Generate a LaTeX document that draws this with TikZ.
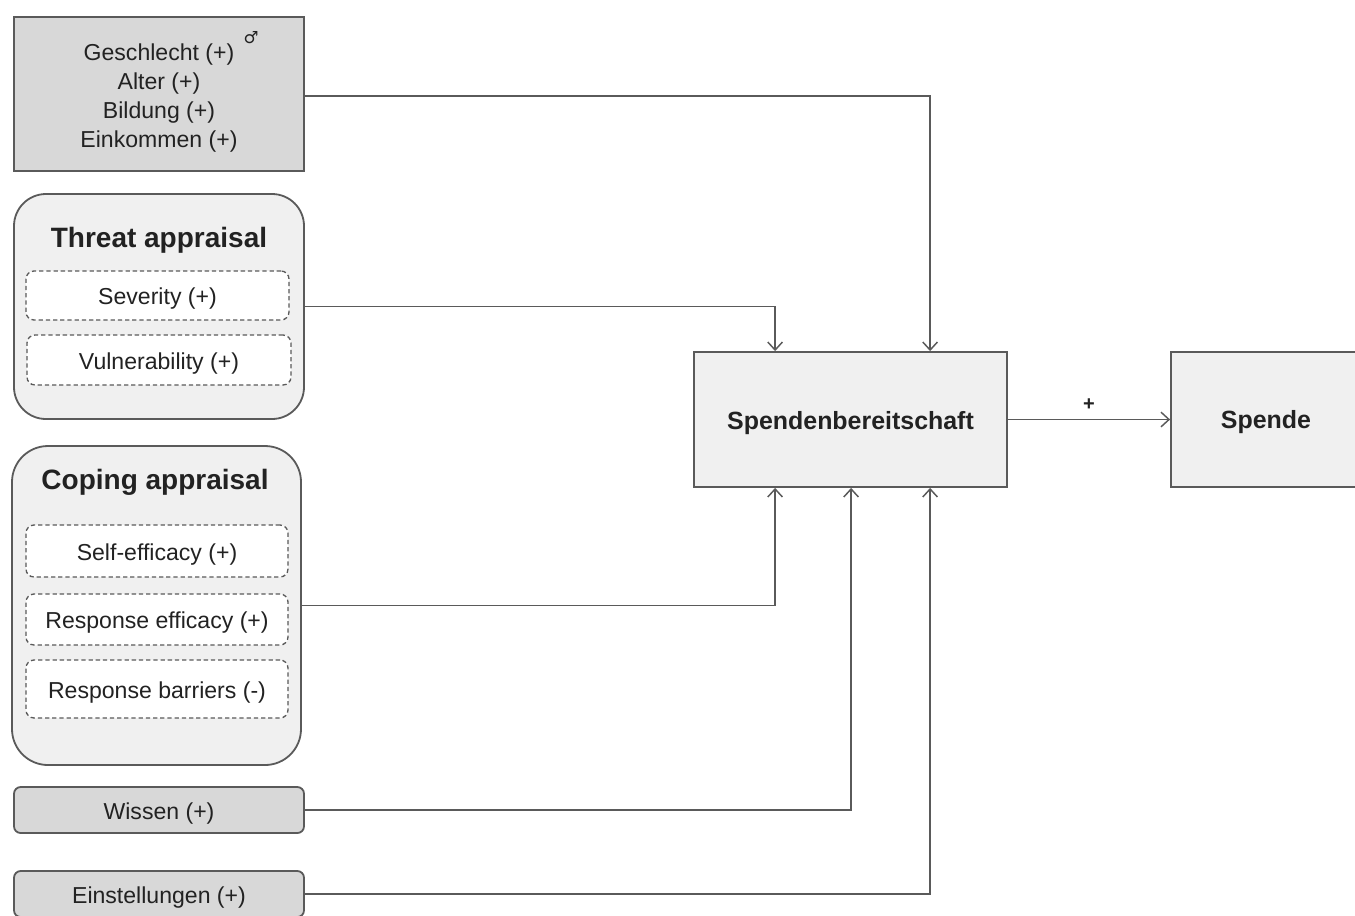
\documentclass[tikz,border=0pt]{standalone}
\usepackage{fontspec}
\setmainfont{Liberation Sans}
\newfontfamily\symfont{DejaVu Sans}
\usetikzlibrary{arrows.meta,calc}
\definecolor{lc}{HTML}{5A5A5A}
\definecolor{dkfill}{HTML}{D8D8D8}
\definecolor{ltfill}{HTML}{F0F0F0}
\definecolor{tc}{HTML}{222222}
\newcommand{\dn}[1]{\raisebox{-2.4pt}[\height][\depth]{#1}}
\begin{document}
\begin{tikzpicture}[x=0.75pt,y=-0.75pt,
  base/.style={draw=lc,line width=1.35pt,inner sep=0pt,text=tc,align=center},
  darkbox/.style={base,fill=dkfill},
  groupbox/.style={base,fill=ltfill,rounded corners=24pt},
  dashbox/.style={base,fill=white,dashed,dash pattern=on 3.2pt off 2.2pt,line width=1pt,rounded corners=6pt},
  mainbox/.style={base,fill=ltfill},
  txt/.style={font=\fontsize{17.3}{21.75}\selectfont},
  ttl/.style={font=\bfseries\fontsize{21}{24}\selectfont,text=tc,inner sep=0pt},
  conn/.style={draw=lc,line width=1.1pt,-{Straight Barb[length=6pt,width=11pt,line width=1.1pt]}}
]
\useasboundingbox (0,0) rectangle (1355,915);
\fill[white] (0,0) rectangle (1355,915);

% demographics
\node[darkbox,minimum width=290*0.75pt,minimum height=154*0.75pt] (demo) at (159,94) {};
\node[txt,text=tc,inner sep=0pt,align=center] (demot) at (159,98)
  {Geschlecht (+)\\Alter (+)\\Bildung (+)\\Einkommen (+)};
\node[text=tc,inner sep=0pt,font=\symfont\fontsize{12.5}{12.5}\selectfont] (male) at (251,38) {♂};

% threat appraisal
\node[groupbox,minimum width=290*0.75pt,minimum height=225*0.75pt] (threat) at (159,306.5) {};
\node[ttl] (threatt) at (159,240) {Threat appraisal};
\node[dashbox,txt,minimum width=263*0.75pt,minimum height=49*0.75pt] (sev) at (157.5,295.5) {\dn{Severity (+)}};
\node[dashbox,txt,minimum width=264*0.75pt,minimum height=50*0.75pt] (vul) at (159,360) {\dn{Vulnerability (+)}};

% coping appraisal
\node[groupbox,rounded corners=27pt,minimum width=289*0.75pt,minimum height=319*0.75pt] (coping) at (156.5,605.5) {};
\node[ttl] (copingt) at (155,482) {Coping appraisal};
\node[dashbox,txt,minimum width=262*0.75pt,minimum height=52*0.75pt] (self) at (157,551) {\dn{Self-efficacy (+)}};
\node[dashbox,txt,minimum width=262*0.75pt,minimum height=51*0.75pt] (reff) at (157,619.5) {\dn{Response efficacy (+)}};
\node[dashbox,txt,minimum width=262*0.75pt,minimum height=58*0.75pt] (rbar) at (157,689) {\dn{Response barriers (-)}};

% knowledge, attitudes
\node[darkbox,txt,rounded corners=5pt,minimum width=290*0.75pt,minimum height=46*0.75pt] (wissen) at (159,810) {\dn{Wissen (+)}};
\node[darkbox,rounded corners=5pt,minimum width=290*0.75pt,minimum height=46*0.75pt] (einst) at (159,894) {};
\node[txt,text=tc,inner sep=0pt] (einstt) at (159,898) {Einstellungen (+)};

% outcome boxes
\node[mainbox,font=\bfseries\fontsize{18.7}{22}\selectfont,minimum width=313*0.75pt,minimum height=135*0.75pt] (sb) at (850.5,419.5) {\dn{Spendenbereitschaft}};
\node[mainbox,minimum width=190*0.75pt,minimum height=135*0.75pt] (sp) at (1266,419.5) {};
\node[font=\bfseries\fontsize{18.7}{22}\selectfont,text=tc,inner sep=0pt] (spt) at (1266,422.5) {Spende};

% connectors
\coordinate (tA) at ($(sb.north west)+(82,0)$);
\coordinate (tB) at ($(sb.north west)+(237,0)$);
\coordinate (bA) at ($(sb.south west)+(82,0)$);
\coordinate (bB) at ($(sb.south west)+(158,0)$);
\coordinate (bC) at ($(sb.south west)+(237,0)$);

\draw[conn] ($(demo.east)+(0,2)$) -| (tB);
\draw[conn] (threat.east) -| (tA);
\draw[conn] (coping.east) -| (bA);
\draw[conn] (wissen.east) -| (bB);
\draw[conn] (einst.east) -| (bC);
\draw[conn] (sb.east) -- node[above=6pt,font=\bfseries\fontsize{15}{15}\selectfont,text=tc,inner sep=0pt] (plus) {+} (sp.west);
\end{tikzpicture}
\end{document}
